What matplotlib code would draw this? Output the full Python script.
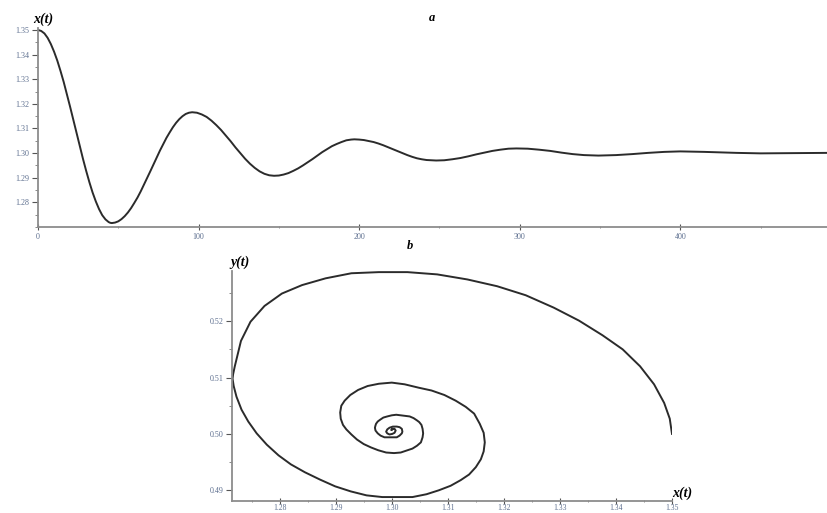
import matplotlib.pyplot as plt
from matplotlib.ticker import MultipleLocator, FormatStrFormatter

# time grid and solution x(t)
t = [0, 2, 4, 6, 8, 10, 12, 14, 16, 18, 20, 22, 24, 26, 28, 30, 32, 34, 36, 38, 40, 42, 44,
     45, 46, 47,
     48, 50, 52, 54, 56, 58, 60, 62, 64, 66, 68, 70, 72, 74, 76, 78, 80, 82, 84, 86, 88, 90,
     92, 94, 96,
     99, 102, 105, 108, 111, 114, 117, 120, 123, 126, 129, 132, 135, 138, 141, 144, 147,
     150, 153, 156, 159, 162, 165, 168, 171, 174, 177, 180, 183, 186, 189, 192, 195, 197,
     200, 203, 206, 209, 212, 215, 218, 221, 224, 227, 230, 233, 236, 239, 242, 245, 248,
     253, 258, 263, 268, 273, 278, 283, 288, 293, 298,
     305, 312, 319, 326, 333, 340, 349,
     360, 370, 380, 390, 400,
     415, 425, 435, 450, 470, 492]

x_t = [1.3500, 1.3496, 1.3486, 1.3468, 1.3443, 1.3412, 1.3376, 1.3334, 1.3289, 1.3239,
       1.3188, 1.3135, 1.3081, 1.3028, 1.2977, 1.2928, 1.2882, 1.2840, 1.2804, 1.2773,
       1.2748, 1.2731, 1.2720,
       1.2717, 1.2716, 1.2717,
       1.2718, 1.2723, 1.2732, 1.2744, 1.2759, 1.2777, 1.2798, 1.2820, 1.2845, 1.2872,
       1.2899, 1.2927, 1.2955, 1.2983, 1.3011, 1.3037, 1.3062, 1.3084, 1.3105, 1.3123,
       1.3138, 1.3150, 1.3159, 1.3164, 1.3166,
       1.3164, 1.3157, 1.3147, 1.3132, 1.3114, 1.3094, 1.3071, 1.3048, 1.3023, 1.3000,
       1.2977, 1.2957, 1.2940, 1.2926, 1.2916, 1.2910, 1.2908,
       1.2909, 1.2913, 1.2919, 1.2928, 1.2938, 1.2950, 1.2963, 1.2976, 1.2990, 1.3004,
       1.3016, 1.3028, 1.3037, 1.3045, 1.3052, 1.3055, 1.3056,
       1.3055, 1.3053, 1.3049, 1.3045, 1.3039, 1.3032, 1.3024, 1.3016, 1.3008, 1.3000,
       1.2992, 1.2985, 1.2979, 1.2975, 1.2972, 1.2971, 1.2970,
       1.2971, 1.2975, 1.2980, 1.2987, 1.2995, 1.3002, 1.3009, 1.3014, 1.3018, 1.3019,
       1.3018, 1.3014, 1.3009, 1.3002, 1.2996, 1.2992, 1.2990,
       1.2992, 1.2996, 1.3001, 1.3005, 1.3007,
       1.3005, 1.3003, 1.3001, 1.2999, 1.3000, 1.3001]

y_t = [0.5000, 0.5027, 0.5055, 0.5088, 0.5120, 0.5150, 0.5175, 0.5201, 0.5224, 0.5246,
       0.5262, 0.5274, 0.5283, 0.5287, 0.5287, 0.5285, 0.5276, 0.5264, 0.5249, 0.5227,
       0.5199, 0.5165, 0.5120,
       0.5106, 0.5098, 0.5092,
       0.5085, 0.5066, 0.5043, 0.5022, 0.5001, 0.4981, 0.4962, 0.4946, 0.4932, 0.4919,
       0.4907, 0.4898, 0.4891, 0.4888, 0.4888, 0.4888, 0.4893, 0.4900, 0.4908, 0.4918,
       0.4928, 0.4941, 0.4955, 0.4969, 0.4985,
       0.5002, 0.5018, 0.5036, 0.5048, 0.5059, 0.5069, 0.5077, 0.5082, 0.5088, 0.5091,
       0.5089, 0.5085, 0.5078, 0.5069, 0.5059, 0.5050, 0.5038,
       0.5027, 0.5016, 0.5008, 0.4999, 0.4990, 0.4982, 0.4976, 0.4971, 0.4967, 0.4966,
       0.4967, 0.4971, 0.4974, 0.4979, 0.4985, 0.4994, 0.5001,
       0.5009, 0.5016, 0.5021, 0.5024, 0.5028, 0.5031, 0.5032, 0.5033, 0.5034, 0.5033,
       0.5031, 0.5029, 0.5025, 0.5022, 0.5018, 0.5015, 0.5011,
       0.5006, 0.5001, 0.4997, 0.4994, 0.4994, 0.4994, 0.4994, 0.4997, 0.5001, 0.5004,
       0.5009, 0.5012, 0.5013, 0.5013, 0.5011, 0.5008, 0.5004,
       0.5001, 0.4999, 0.5000, 0.5002, 0.5006,
       0.5009, 0.5009, 0.5009, 0.5007, 0.5007, 0.5008]

t_ticks = [0, 100, 200, 300, 400]
xa_ticks = [1.28, 1.29, 1.30, 1.31, 1.32, 1.33, 1.34, 1.35]
xb_ticks = [1.28, 1.29, 1.30, 1.31, 1.32, 1.33, 1.34, 1.35]
yb_ticks = [0.49, 0.50, 0.51, 0.52]

LINE = "#2b2b2b"
SPINE = "#8c8c8c"
TICKTXT = "#5d6f8f"
SERIF = "Liberation Serif"


def style_axes(ax):
    for side in ("top", "right"):
        ax.spines[side].set_visible(False)
    for side in ("left", "bottom"):
        ax.spines[side].set_color(SPINE)
        ax.spines[side].set_linewidth(1.3)
    ax.tick_params(which="major", length=4, width=0.8, color="#555555",
                   labelsize=5.8, labelcolor=TICKTXT, pad=2)
    ax.tick_params(which="minor", length=2, width=0.6, color="#777777")
    ax.tick_params(axis="x", which="both", direction="inout")
    for lab in ax.get_xticklabels() + ax.get_yticklabels():
        lab.set_fontfamily(SERIF)


fig = plt.figure(figsize=(8.28, 5.13), dpi=100)

# panel a: x(t)
ax1 = fig.add_axes([38 / 828, 0.5575, 790 / 828, 0.3879])
ax1.plot(t, x_t, color=LINE, lw=1.4)
ax1.set_xlim(0, 492)
ax1.set_ylim(1.2700, 1.3508)
ax1.set_xticks(t_ticks)
ax1.xaxis.set_minor_locator(MultipleLocator(50))
ax1.set_yticks(xa_ticks)
ax1.yaxis.set_minor_locator(MultipleLocator(0.005))
ax1.yaxis.set_major_formatter(FormatStrFormatter("%.2f"))
style_axes(ax1)
fig.text(33 / 828, 1 - 19 / 513, "x(t)", family=SERIF, style="italic",
         weight="bold", fontsize=10, va="center", ha="left")
fig.text(432 / 828, 1 - 18 / 513, "a", family=SERIF, style="italic",
         weight="bold", fontsize=9, va="center", ha="center")

# panel b: phase portrait y(x)
ax2 = fig.add_axes([232 / 828, 12 / 513, 440 / 828, 230 / 513])
ax2.plot(x_t, y_t, color=LINE, lw=1.4)
ax2.set_xlim(1.2715, 1.3500)
ax2.set_ylim(0.4881, 0.5289)
ax2.set_xticks(xb_ticks)
ax2.xaxis.set_minor_locator(MultipleLocator(0.005))
ax2.set_yticks(yb_ticks)
ax2.yaxis.set_minor_locator(MultipleLocator(0.005))
ax2.xaxis.set_major_formatter(FormatStrFormatter("%.2f"))
ax2.yaxis.set_major_formatter(FormatStrFormatter("%.2f"))
style_axes(ax2)
ax2.tick_params(axis="x", which="major", labelsize=5.5, pad=0.5)
fig.text(230 / 828, 1 - 262 / 513, "y(t)", family=SERIF, style="italic",
         weight="bold", fontsize=10, va="center", ha="left")
fig.text(672 / 828, 1 - 493 / 513, "x(t)", family=SERIF, style="italic",
         weight="bold", fontsize=10, va="center", ha="left")
fig.text(410 / 828, 1 - 246 / 513, "b", family=SERIF, style="italic",
         weight="bold", fontsize=9, va="center", ha="center")

fig.savefig("out.png", dpi=100, facecolor="white")
